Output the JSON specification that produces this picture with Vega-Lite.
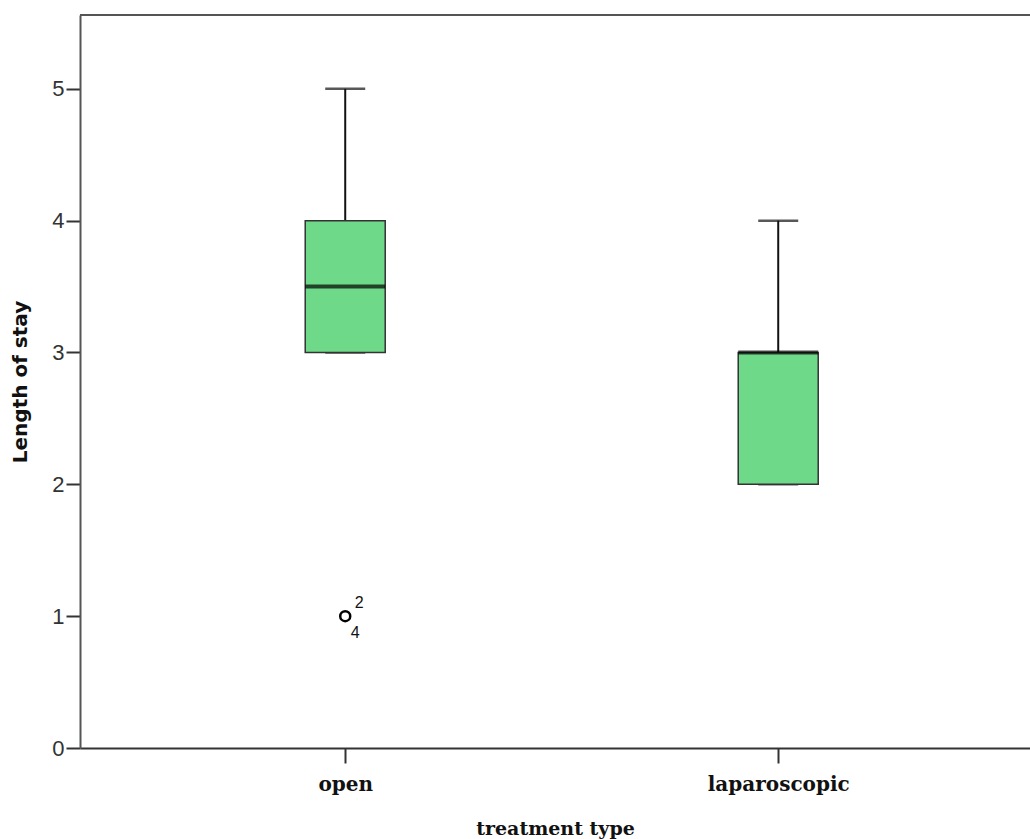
{
  "$schema": "https://vega.github.io/schema/vega-lite/v6.json",
  "width": 950,
  "height": 733,
  "autosize": {"type": "none"},
  "padding": {"left": 80, "top": 15, "right": 0, "bottom": 91},
  "background": "white",
  "config": {"view": {"stroke": null}},
  "datasets": {
    "boxes": [
      {"treatment": "open", "lower": 3, "q1": 3, "median": 3.5, "q3": 4, "upper": 5},
      {"treatment": "laparoscopic", "lower": 2, "q1": 2, "median": 3, "q3": 3, "upper": 4}
    ],
    "outliers": [
      {"treatment": "open", "value": 1, "case_top": "2", "case_bottom": "4"}
    ]
  },
  "encoding": {
    "x": {
      "field": "treatment",
      "type": "nominal",
      "sort": ["open", "laparoscopic"],
      "scale": {"type": "point", "padding": 0.597, "align": 0.513},
      "axis": {
        "title": "treatment type",
        "titleFont": "DejaVu Serif",
        "titleFontSize": 19,
        "titleFontWeight": "bold",
        "titleColor": "#111",
        "titlePadding": 25,
        "labelFont": "DejaVu Serif",
        "labelFontSize": 20,
        "labelFontWeight": "bold",
        "labelColor": "#111",
        "labelPadding": 11,
        "labelAngle": 0,
        "tickSize": 15,
        "tickColor": "#333",
        "tickWidth": 2,
        "domainColor": "#333",
        "domainWidth": 2,
        "grid": false
      }
    }
  },
  "layer": [
    {
      "data": {"values": [{"top": 5.56}]},
      "mark": {"type": "rule", "color": "#555", "strokeWidth": 2},
      "encoding": {"x": null, "y": {"field": "top", "type": "quantitative"}}
    },
    {
      "data": {"name": "boxes"},
      "mark": {"type": "rule", "color": "#111", "strokeWidth": 2},
      "encoding": {
        "y": {
          "field": "q3",
          "type": "quantitative",
          "scale": {"domain": [0, 5.56], "nice": false, "zero": true},
          "axis": {
            "title": "Length of stay",
            "titleFont": "DejaVu Sans",
            "titleFontSize": 20,
            "titleFontWeight": "bold",
            "titleColor": "#111",
            "titlePadding": 21,
            "values": [0, 1, 2, 3, 4, 5],
            "format": "d",
            "labelFont": "Liberation Sans",
            "labelFontSize": 22,
            "labelColor": "#333",
            "labelPadding": 2,
            "tickSize": 14,
            "tickColor": "#333",
            "tickWidth": 2,
            "domainColor": "#555",
            "domainWidth": 2,
            "grid": false
          }
        },
        "y2": {"field": "upper"}
      }
    },
    {
      "data": {"name": "boxes"},
      "mark": {"type": "tick", "orient": "horizontal", "color": "#111", "size": 40, "thickness": 2.5},
      "encoding": {"y": {"field": "upper", "type": "quantitative"}}
    },
    {
      "data": {"name": "boxes"},
      "mark": {"type": "tick", "orient": "horizontal", "color": "#111", "size": 40, "thickness": 2.5},
      "encoding": {"y": {"field": "lower", "type": "quantitative"}}
    },
    {
      "data": {"name": "boxes"},
      "mark": {"type": "bar", "size": 80, "fill": "#6FD98A", "stroke": "#333", "strokeWidth": 1.5},
      "encoding": {
        "y": {"field": "q1", "type": "quantitative"},
        "y2": {"field": "q3"}
      }
    },
    {
      "data": {"name": "boxes"},
      "mark": {"type": "tick", "orient": "horizontal", "color": "#000", "size": 80, "thickness": 4},
      "encoding": {"y": {"field": "median", "type": "quantitative"}}
    },
    {
      "data": {"name": "outliers"},
      "mark": {"type": "point", "shape": "circle", "filled": false, "stroke": "#000", "strokeWidth": 2.5, "size": 100, "opacity": 1},
      "encoding": {"y": {"field": "value", "type": "quantitative"}}
    },
    {
      "data": {"name": "outliers"},
      "mark": {"type": "text", "font": "Liberation Sans", "fontSize": 16, "color": "#111", "dx": 14, "dy": -13},
      "encoding": {"y": {"field": "value", "type": "quantitative"}, "text": {"field": "case_top"}}
    },
    {
      "data": {"name": "outliers"},
      "mark": {"type": "text", "font": "Liberation Sans", "fontSize": 16, "color": "#111", "dx": 10, "dy": 17},
      "encoding": {"y": {"field": "value", "type": "quantitative"}, "text": {"field": "case_bottom"}}
    }
  ]
}
